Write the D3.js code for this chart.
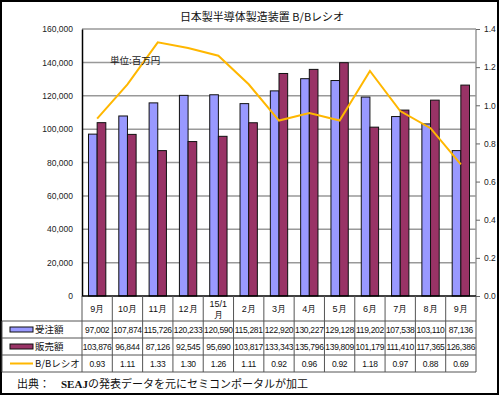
<!DOCTYPE html>
<html><head><meta charset="utf-8">
<script src="https://cdn.jsdelivr.net/npm/d3@7"></script>
<style>
html,body{margin:0;padding:0;background:#fff;}
svg{display:block;}
text{font-family:"Liberation Sans",Arial,sans-serif;}
.jp{font-family:"Noto Sans CJK JP","Noto Sans",sans-serif;}
</style></head>
<body>
<svg id="c" width="500" height="396"></svg>
<script>
const categories = ["9月","10月","11月","12月","15/1\n月","2月","3月","4月","5月","6月","7月","8月","9月"];
const orders = [97002,107874,115726,120233,120590,115281,122920,130227,129128,119202,107538,103110,87136];
const sales = [103876,96844,87126,92545,95690,103817,133343,135796,139809,101179,111410,117365,126386];
const bbRatio = [0.93,1.11,1.33,1.30,1.26,1.11,0.92,0.96,0.92,1.18,0.97,0.88,0.69];
const seriesNames = ["受注額","販売額","B/Bレシオ"];
const leftTicks = [0,20000,40000,60000,80000,100000,120000,140000,160000];
const rightTicks = [0,0.2,0.4,0.6,0.8,1.0,1.2,1.4];
const title = "日本製半導体製造装置 B/Bレシオ";
const unitLabel = "単位:百万円";

const svg = d3.select("#c");
const L = 82, R = 476, T = 29, B = 296;
const tblLeft = 2;
const rowY = [296, 321, 338, 355, 372];
const colors = {orders:"#9999ff", sales:"#993366", line:"#ffb700"};

svg.append("rect").attr("x",1).attr("y",1).attr("width",497).attr("height",393)
  .attr("fill","#fff").attr("stroke","#000").attr("stroke-width",2);

const x = d3.scaleBand().domain(d3.range(categories.length)).range([L,R]).padding(0);
const xs = d3.scaleBand().domain([0,1]).range([0,x.bandwidth()]).paddingInner(0).paddingOuter(0.75);
const y = d3.scaleLinear().domain([0,160000]).range([B,T]);
const y2 = d3.scaleLinear().domain([0,1.4]).range([B,T]);

// gridlines
svg.append("g").selectAll("line").data(leftTicks.filter(d=>d>0)).join("line")
  .attr("x1",L).attr("x2",R).attr("y1",d=>y(d)).attr("y2",d=>y(d))
  .attr("stroke","#999").attr("stroke-width",1.5);

// right border line
svg.append("line").attr("x1",R).attr("x2",R).attr("y1",T).attr("y2",B).attr("stroke","#999").attr("stroke-width",1.5);

// bars
const gBars = svg.append("g");
[[orders,colors.orders,0],[sales,colors.sales,1]].forEach(([arr,col,k])=>{
  gBars.selectAll(null).data(arr).join("rect")
    .attr("x",(d,i)=>x(i)+xs(k))
    .attr("y",d=>y(d))
    .attr("width",xs.bandwidth())
    .attr("height",d=>B-y(d))
    .attr("fill",col).attr("stroke","#111").attr("stroke-width",1);
});

// line
const line = d3.line().x((d,i)=>x(i)+x.bandwidth()/2).y(d=>y2(d));
svg.append("path").datum(bbRatio).attr("d",line).attr("fill","none")
  .attr("stroke",colors.line).attr("stroke-width",2);

// left axis
const axL = d3.axisLeft(y).tickValues(leftTicks).tickSize(0).tickPadding(9).tickFormat(d3.format(","));
const gL = svg.append("g").attr("transform",`translate(${L},0)`).call(axL);
gL.select(".domain").attr("stroke","#000").attr("stroke-width",1.5);
gL.selectAll("text").attr("font-size","8.5px").attr("fill","#222").attr("font-family","Liberation Sans, Arial, sans-serif");

// right axis
const axR = d3.axisRight(y2).tickValues(rightTicks).tickSize(4).tickPadding(4).tickFormat(d3.format(".1f"));
const gR = svg.append("g").attr("transform",`translate(${R},0)`).call(axR);
gR.select(".domain").remove();
gR.selectAll("line").attr("stroke","#666");
gR.selectAll("text").attr("font-size","8.5px").attr("fill","#222").attr("font-family","Liberation Sans, Arial, sans-serif");

// bottom axis line
svg.append("line").attr("x1",L).attr("x2",R).attr("y1",B).attr("y2",B).attr("stroke","#000").attr("stroke-width",1.5);

// table grid
const tg = svg.append("g").attr("stroke","#555").attr("stroke-width",1);
rowY.slice(1).forEach(yy=>{
  tg.append("line").attr("x1",tblLeft).attr("x2",R).attr("y1",yy).attr("y2",yy);
});
d3.range(categories.length+1).forEach(i=>{
  const xx = i===categories.length ? R : x(i);
  tg.append("line").attr("x1",xx).attr("x2",xx).attr("y1",B).attr("y2",rowY[4]);
});
tg.append("line").attr("x1",tblLeft).attr("x2",tblLeft).attr("y1",rowY[1]).attr("y2",rowY[4]);

// category labels
const gC = svg.append("g").attr("class","jp").attr("font-size","9px").attr("fill","#111").attr("text-anchor","middle");
categories.forEach((c,i)=>{
  const parts = c.split("\n");
  const cx = x(i)+x.bandwidth()/2;
  const t = gC.append("text").attr("x",cx);
  if(parts.length===1){
    t.attr("y",(rowY[0]+rowY[1])/2+3.5).text(c);
  } else {
    t.attr("y",rowY[0]+11).text(parts[0]);
    gC.append("text").attr("x",cx).attr("y",rowY[0]+22).text(parts[1]);
  }
});

// data rows
const fmtN = d3.format(",");
const fmtR = d3.format(".2f");
[[orders,fmtN,1],[sales,fmtN,2],[bbRatio,fmtR,3]].forEach(([arr,f,r])=>{
  svg.append("g").selectAll("text").data(arr).join("text")
    .attr("x",(d,i)=>x(i)+x.bandwidth()/2)
    .attr("y",(rowY[r]+rowY[r+1])/2+3.3)
    .attr("text-anchor","middle").attr("font-size","8.5px").attr("fill","#111")
    .attr("letter-spacing","-0.3px")
    .text(d=>f(d));
});

// legend keys in table
const keyX1 = 10, keyX2 = 33;
[[1,colors.orders],[2,colors.sales]].forEach(([r,col])=>{
  const cy = (rowY[r]+rowY[r+1])/2;
  svg.append("rect").attr("x",keyX1).attr("y",cy-2.5).attr("width",keyX2-keyX1).attr("height",5)
    .attr("fill",col).attr("stroke","#111").attr("stroke-width",1);
});
{
  const cy = (rowY[3]+rowY[4])/2;
  svg.append("line").attr("x1",keyX1).attr("x2",keyX2).attr("y1",cy).attr("y2",cy)
    .attr("stroke",colors.line).attr("stroke-width",2);
}
seriesNames.forEach((n,k)=>{
  const r = k+1;
  svg.append("text").attr("class","jp").attr("x",35).attr("y",(rowY[r]+rowY[r+1])/2+3.5)
    .attr("font-size","9.5px").attr("fill","#111").text(n);
});

// title
svg.append("text").attr("class","jp").attr("x",262).attr("y",21).attr("text-anchor","middle")
  .attr("font-size","11px").attr("fill","#111").text(title);

// unit label
svg.append("text").attr("class","jp").attr("x",110).attr("y",64)
  .attr("font-size","9.5px").attr("fill","#222").text(unitLabel);

// source
const src = svg.append("text").attr("class","jp").attr("x",17).attr("y",388).attr("font-size","11px").attr("fill","#111");
src.append("tspan").text("出典：　");
src.append("tspan").attr("font-family","Liberation Serif, serif").attr("font-weight","bold").text("SEAJ");
src.append("tspan").text("の発表データを元にセミコンポータルが加工");
</script>
</body></html>
